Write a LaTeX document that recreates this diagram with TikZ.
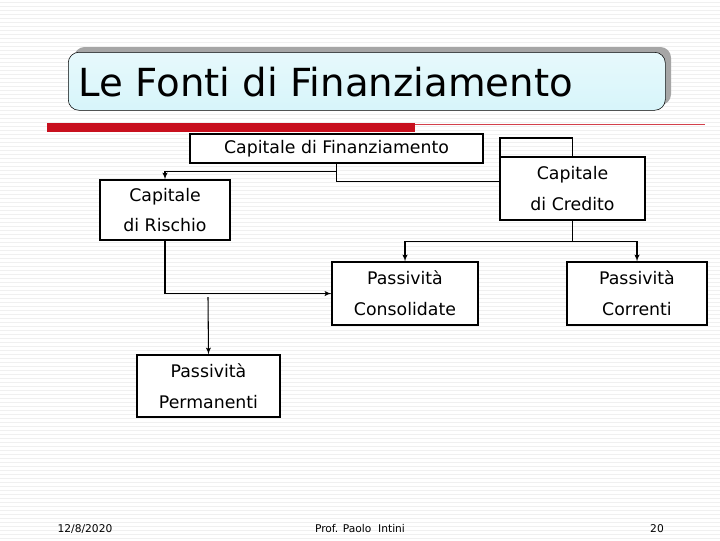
\documentclass[tikz,border=0pt]{standalone}
\usepackage{fontspec}
\setmainfont{DejaVu Sans}
\usetikzlibrary{arrows,positioning,calc}
\definecolor{titlefill}{RGB}{215,245,250}
\definecolor{barred}{RGB}{200,16,30}
\begin{document}
\begin{tikzpicture}[x=0.75pt,y=-0.75pt,>=latex',font=\fontsize{13}{15}\selectfont]
\tikzset{
box/.style  = {draw, thick, fill=white, inner sep=0pt, align=center},
link/.style = {thick},
foot/.style = {font=\fontsize{8}{10}\selectfont},
}
    % Background
    \useasboundingbox (0,0) rectangle (720,540);
    \fill[white] (0,0) rectangle (720,540);
    \foreach \y in {2,6,...,538} \draw[gray!12, line width=0.6pt] (0,\y) -- (720,\y);

    % Title
    \fill[gray!70, rounded corners=8pt] (74,47) rectangle (671,105);
    \node [draw, rounded corners=8pt, top color=titlefill!60, bottom color=titlefill, minimum width=597*0.75pt, minimum height=58*0.75pt, anchor=north west] (title) at (68,52) {};
    \node [anchor=west, font=\fontsize{29}{32}\selectfont] at (74,82) {Le Fonti di Finanziamento};
    \fill[barred] (47,123) rectangle (415,132);
    \draw[barred!80] (415,124) -- (705,124);

    % Main nodes
    \node [box, minimum width=293*0.75pt, minimum height=29*0.75pt] (fin)   at (336.5,148.5) {Capitale di Finanziamento};
    \node [box, minimum width=130*0.75pt, minimum height=60*0.75pt] (risk)  at (165,210) {Capitale\\[8pt]di Rischio};
    \node [box, minimum width=145*0.75pt, minimum height=63*0.75pt] (cred)  at (572.5,188.5) {Capitale\\[8pt]di Credito};
    \node [box, minimum width=146*0.75pt, minimum height=63*0.75pt] (cons)  at (405,293.5) {Passività\\[8pt]Consolidate};
    \node [box, minimum width=140*0.75pt, minimum height=63*0.75pt] (corr)  at (637,293.5) {Passività\\[8pt]Correnti};
    \node [box, minimum width=143*0.75pt, minimum height=62*0.75pt] (perm)  at (208.5,386) {Passività\\[8pt]Permanenti};

    % Main edges
    \draw [link]     (fin.south) -- ++(0,18) -| (500,138) -| (cred.north);
    \draw [link, ->] (fin.south) ++(0,8) -| (risk.north);
    \draw [link]     (cred.south) -- ++(0,21);
    \draw [link, ->] ($(cred.south)+(0,21)$) -| (cons.north);
    \draw [link, ->] ($(cred.south)+(0,21)$) -| (corr.north);
    \draw [link, ->] (risk.south) |- (cons.west);
    \draw [link, ->] (208,297) -- (perm.north);

    % Footer
    \node [foot] (date)   at (85,529)  {12/8/2020};
    \node [foot] (author) at (360,529) {Prof. Paolo\ \ Intini};
    \node [foot] (page)   at (657,529) {20};
\end{tikzpicture}
\end{document}
